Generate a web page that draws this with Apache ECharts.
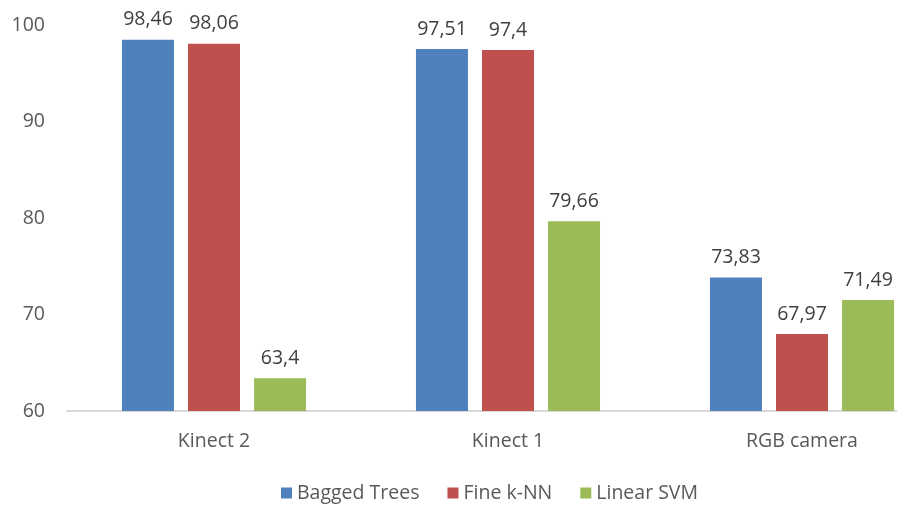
<!DOCTYPE html>
<html>
<head>
<meta charset="utf-8">
<script src="https://cdn.jsdelivr.net/npm/echarts@6/dist/echarts.min.js"></script>
<style>
    html, body { margin: 0; padding: 0; background: #fff; }
    #myChart { width: 897px; height: 506px; }
</style>
</head>
<body>
<div id="myChart"></div>
<script>
//数据
var categories = ['Kinect 2', 'Kinect 1', 'RGB camera'];
var baggedTrees = [98.46, 97.51, 73.83];
var fineKnn = [98.06, 97.4, 67.97];
var linearSvm = [63.4, 79.66, 71.49];
var yTicks = [60, 70, 80, 90, 100];

var textColor = '#595959';
var fontName = '"Open Sans", "Liberation Sans", sans-serif';
var fontSize = 19.5;

//获取Series
function makeSeries(name, data, color) {
    return {
        name: name,
        type: 'bar',
        data: data,
        barWidth: 52,
        barGap: '27%',
        itemStyle: {
            color: color
        },
        label: {
            show: true,
            position: 'top',
            distance: 10,
            color: '#404040',
            fontSize: fontSize,
            fontFamily: fontName,
            formatter: function (p) {
                return String(p.value).replace('.', ',');
            }
        }
    };
}

var myChart = echarts.init(document.getElementById('myChart'));
var option = {
    animation: false,
    textStyle: { fontFamily: fontName },
    grid: {
        left: 67,
        top: 25,
        right: -52,
        bottom: 95,
        outerBoundsMode: 'none'
    },
    legend: {
        left: 276,
        top: 478,
        itemWidth: 11,
        itemHeight: 11,
        itemGap: 28,
        icon: 'rect',
        textStyle: {
            color: textColor,
            fontSize: fontSize,
            fontFamily: fontName
        },
        data: ['Bagged Trees', 'Fine k-NN', 'Linear SVM']
    },
    xAxis: {
        type: 'category',
        data: categories,
        axisLine: {
            lineStyle: { color: '#d9d9d9', width: 2 }
        },
        axisTick: { show: false },
        axisLabel: {
            color: textColor,
            fontSize: fontSize,
            margin: 20,
            fontFamily: fontName
        }
    },
    yAxis: {
        type: 'value',
        min: yTicks[0],
        max: yTicks[yTicks.length - 1],
        interval: 10,
        splitLine: { show: false },
        axisLine: { show: false },
        axisTick: { show: false },
        axisLabel: {
            color: textColor,
            fontSize: fontSize,
            margin: 22,
            fontFamily: fontName
        }
    },
    series: [
        makeSeries('Bagged Trees', baggedTrees, '#4f81bd'),
        makeSeries('Fine k-NN', fineKnn, '#c0504d'),
        makeSeries('Linear SVM', linearSvm, '#9bbb59')
    ]
};
myChart.setOption(option);
</script>
</body>
</html>
